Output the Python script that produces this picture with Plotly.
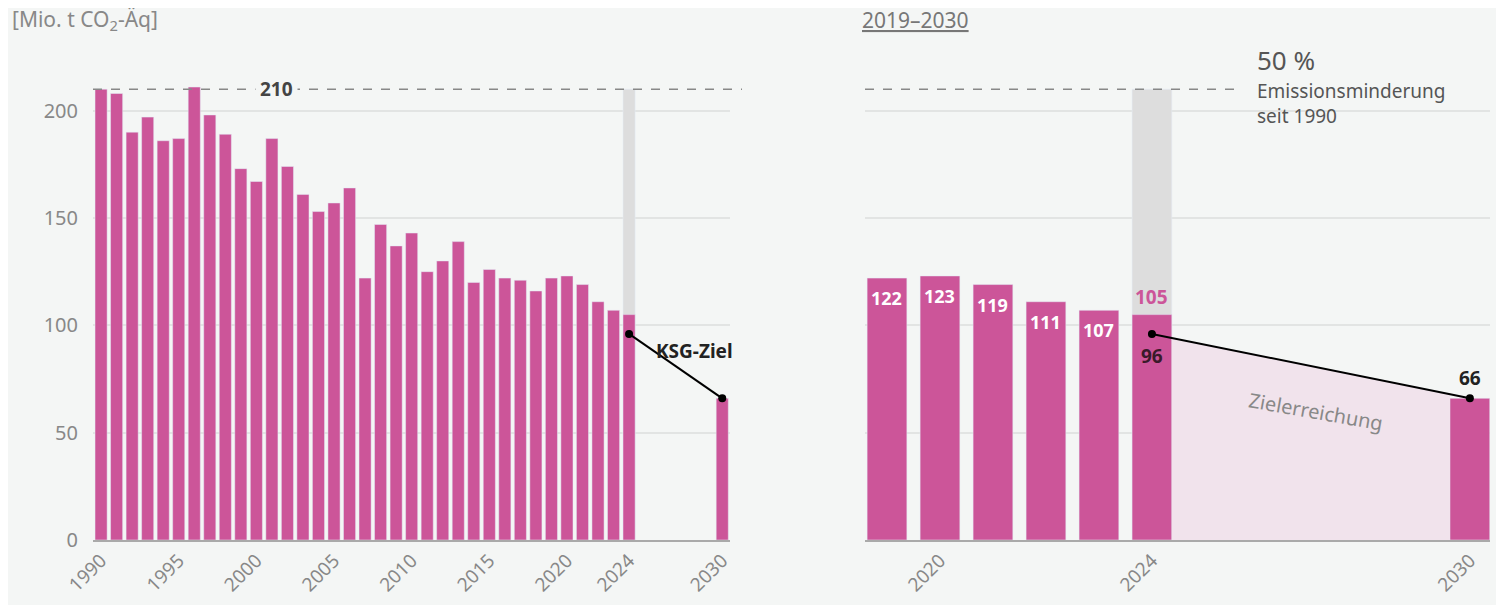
import plotly.graph_objects as go

years = list(range(1990, 2025))
values = [210, 208, 190, 197, 186, 187, 211, 198, 189, 173, 167, 187, 174, 161, 153, 157, 164,
          122, 147, 137, 143, 125, 130, 139, 120, 126, 122, 121, 116, 122, 123, 119, 111, 107, 105]
target_year = 2030
target_value = 66
ksg_2024 = 96
ref_1990 = 210
right_years = [2019, 2020, 2021, 2022, 2023, 2024]
right_values = [122, 123, 119, 111, 107, 105]

PINK = "#cc5599"
GRAY = "#dddddd"
BG = "#f4f6f5"
FONT = "Noto Sans"
W, H, OFF = 1488, 597, 8


def px(x):
    return (x - OFF) / W


def py(y):
    return 1 - (y - OFF - 49) / (H - 49 - 65)


fig = go.Figure()
fig.add_bar(x=[2024], y=[ref_1990], marker_color=GRAY, width=0.78, xaxis="x", yaxis="y", hoverinfo="skip")
fig.add_bar(x=years + [target_year], y=values + [target_value], marker_color=PINK, width=0.78,
            xaxis="x", yaxis="y")
fig.add_scatter(x=[2024, target_year], y=[ksg_2024, target_value], mode="lines+markers",
                line=dict(color="black", width=2), marker=dict(color="black", size=8), xaxis="x", yaxis="y")
fig.add_scatter(x=[2024.375, 2029.625],
                y=[ksg_2024 + (target_value - ksg_2024) * 0.375 / 6, target_value + (ksg_2024 - target_value) * 0.375 / 6],
                mode="lines", line=dict(width=0), fill="tozeroy", fillcolor="#f1e3ec", xaxis="x2", yaxis="y2")
fig.add_bar(x=[2024], y=[ref_1990], marker_color=GRAY, width=0.75, xaxis="x2", yaxis="y2")
fig.add_bar(x=right_years + [target_year], y=right_values + [target_value], marker_color=PINK, width=0.75,
            xaxis="x2", yaxis="y2")
fig.add_scatter(x=[2024, target_year], y=[ksg_2024, target_value], mode="lines+markers",
                line=dict(color="black", width=2), marker=dict(color="black", size=8), xaxis="x2", yaxis="y2")

fig.update_layout(
    barmode="overlay", showlegend=False, width=W, height=H,
    paper_bgcolor=BG, plot_bgcolor=BG, margin=dict(l=0, r=0, t=49, b=65, autoexpand=False),
    font=dict(family=FONT, color="#777777", size=18),
    xaxis=dict(domain=[px(93), px(730)], range=[1989.48, 2030.5], automargin=False,
               tickvals=[1990, 1995, 2000, 2005, 2010, 2015, 2020, 2024, 2030],
               tickangle=-45, showgrid=False, zeroline=False, showline=True, linecolor="#aaaaaa", linewidth=2,
               tickfont=dict(size=19, color="#888888")),
    yaxis=dict(range=[0, 225], tickvals=[0, 50, 100, 150, 200], gridcolor="#e2e4e3", gridwidth=2, automargin=False,
               zeroline=False, ticks="", ticklabelstandoff=14, tickfont=dict(size=20, color="#888888")),
    xaxis2=dict(domain=[px(865), px(1490)], range=[2018.585, 2030.38], tickvals=[2020, 2024, 2030], automargin=False,
                tickangle=-45, showgrid=False, zeroline=False, showline=True, linecolor="#aaaaaa", linewidth=2,
                tickfont=dict(size=19, color="#888888")),
    yaxis2=dict(anchor="x2", range=[0, 225], tickvals=[0, 50, 100, 150, 200], gridcolor="#e2e4e3", gridwidth=2,
                zeroline=False, showticklabels=False, automargin=False),
    shapes=[
        dict(type="line", xref="paper", yref="y", x0=px(93), x1=px(742), y0=ref_1990, y1=ref_1990,
             line=dict(color="#888888", width=1.5, dash="dash")),
        dict(type="line", xref="paper", yref="y", x0=px(865), x1=px(1240), y0=ref_1990, y1=ref_1990,
             line=dict(color="#888888", width=1.5, dash="dash")),
    ],
)

ann = []
ann.append(dict(xref="paper", yref="paper", x=px(10), y=py(20), xanchor="left", yanchor="middle", showarrow=False,
                text="[Mio. t CO<sub>2</sub>-Äq]", font=dict(size=21, color="#888888")))
ann.append(dict(xref="paper", yref="paper", x=px(860), y=py(20), xanchor="left", yanchor="middle", showarrow=False,
                text="<u>2019–2030</u>", font=dict(size=21, color="#777777")))
ann.append(dict(xref="x", yref="y", x=2001.3, y=ref_1990, text="<b>210</b>", showarrow=False, bgcolor=BG,
                font=dict(size=19, color="#444444"), borderpad=4))
ann.append(dict(xref="x", yref="y", x=2028.2, y=88, text="<b>KSG-Ziel</b>", showarrow=False,
                font=dict(size=19, color="#222222")))
for yv, v in zip(right_years, right_values):
    if yv == 2024:
        continue
    ann.append(dict(xref="x2", yref="y2", x=yv, y=v, yshift=-20, text=f"<b>{v}</b>", showarrow=False,
                    font=dict(size=18, color="white")))
ann.append(dict(xref="x2", yref="y2", x=2024, y=right_values[-1], yshift=18, text=f"<b>{right_values[-1]}</b>",
                showarrow=False, font=dict(size=19, color=PINK)))
ann.append(dict(xref="x2", yref="y2", x=2024, y=ksg_2024, yshift=-22, text=f"<b>{ksg_2024}</b>",
                showarrow=False, font=dict(size=19, color="#3a1a2a")))
ann.append(dict(xref="x2", yref="y2", x=target_year, y=target_value, yshift=20, text=f"<b>{target_value}</b>",
                showarrow=False, font=dict(size=19, color="#222222")))
ann.append(dict(xref="x2", yref="y2", x=2027.1, y=60, text="Zielerreichung", textangle=10, showarrow=False,
                font=dict(size=20, color="#888888")))
ann.append(dict(xref="paper", yref="paper", x=px(1255), y=py(60), xanchor="left", yanchor="middle", showarrow=False,
                text="50 %", font=dict(size=26, color="#555555")))
ann.append(dict(xref="paper", yref="paper", x=px(1255), y=py(103), xanchor="left", yanchor="middle", showarrow=False,
                align="left", text="Emissionsminderung<br>seit 1990", font=dict(size=19, color="#555555")))
fig.update_layout(annotations=ann)
fig.write_html("out.html")
